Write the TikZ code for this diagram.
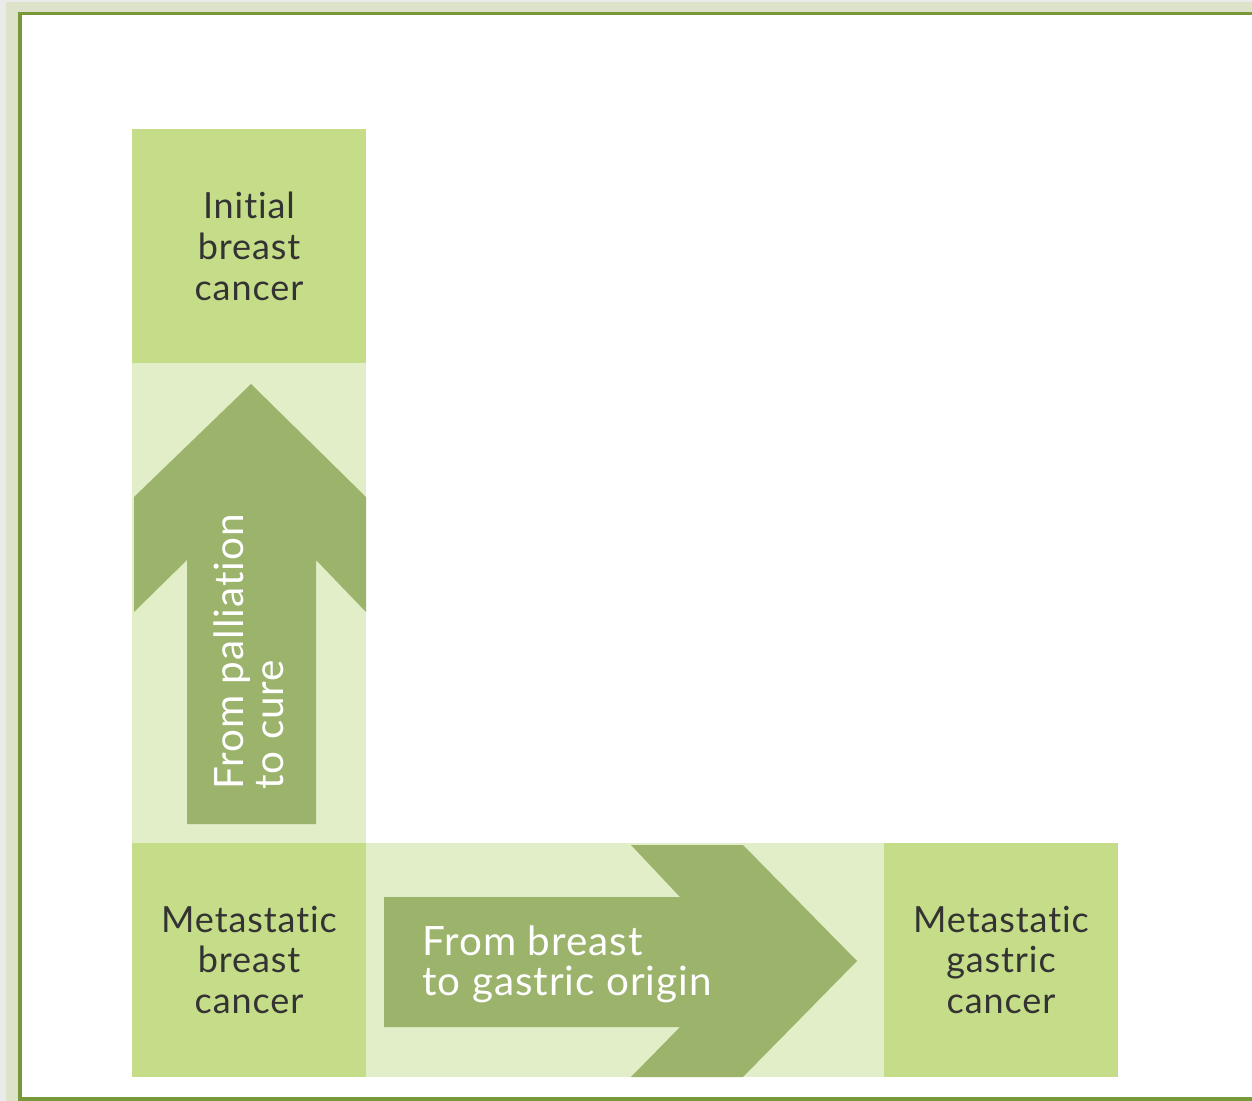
\documentclass[tikz,border=0pt]{standalone}
\usepackage{fontspec}
\setmainfont{Lato}[Ligatures={NoCommon}, LetterSpace=2.5]
\definecolor{boxgreen}{HTML}{C5DC88}
\definecolor{bandgreen}{HTML}{E2EEC7}
\definecolor{arrowgreen}{HTML}{9CB36C}
\definecolor{framegreen}{HTML}{77993A}
\definecolor{edgegreen}{HTML}{DCE3C8}
\definecolor{edgegray}{HTML}{EAEAEA}
\definecolor{labelgray}{HTML}{333333}
\tikzset{
  stagebox/.style={fill=boxgreen, minimum width=4.68cm, minimum height=4.68cm, inner sep=0pt,
    align=center, text=labelgray, font=\fontsize{20.5}{23.3}\selectfont},
  arrowtxt/.style={inner sep=0pt, align=left, text=white, font=\fontsize{23}{22.8}\selectfont}
}
\begin{document}
\begin{tikzpicture}[x=0.02cm, y=-0.02cm]
  % Frame
  \fill[edgegray] (0,0) rectangle (1252,1101);
  \fill[edgegreen] (6,2) rectangle (1252,1101);
  \fill[framegreen] (18,12) rectangle (1252,1101);
  \fill[white] (22,15) rectangle (1252,1097);
  \useasboundingbox (0,0) rectangle (1252,1101);

  % Light bands between the boxes
  \fill[bandgreen] (132,363) rectangle (366,843);
  \fill[bandgreen] (366,843) rectangle (884,1077);

  % Boxes
  \node[stagebox] (init) at (249,246) {Initial\\breast\\cancer};
  \node[stagebox] (metab) at (249,960) {Metastatic\\breast\\cancer};
  \node[stagebox] (metag) at (1001,960) {Metastatic\\gastric\\cancer};

  % Arrow up
  \fill[arrowgreen] (187,824) -- (187,560) -- (134,612) -- (134,497) -- (251,384)
    -- (366,497) -- (366,612) -- (316,560) -- (316,824) -- cycle;
  \node[arrowtxt, rotate=90, anchor=north west] (uptxt) at (213,790) {From palliation\\to cure};

  % Arrow right
  \fill[arrowgreen] (384,897) -- (680,897) -- (631,845) -- (743,845) -- (857,961)
    -- (743,1077) -- (631,1077) -- (680,1027) -- (384,1027) -- cycle;
  \node[arrowtxt, anchor=north west] (righttxt) at (422,925) {From breast\\to gastric origin};
\end{tikzpicture}
\end{document}
